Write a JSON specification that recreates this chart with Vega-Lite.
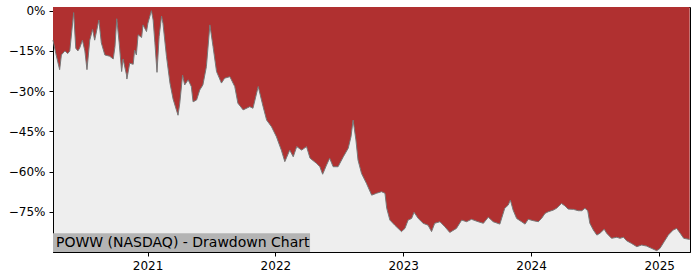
{
  "$schema": "https://vega.github.io/schema/vega-lite/v6.json",
  "width": 637,
  "height": 245,
  "autosize": {"type": "none"},
  "padding": {"left": 53, "top": 7, "right": 10, "bottom": 28},
  "config": {
    "font": "DejaVu Sans",
    "view": {"fill": "#eeeeee", "stroke": "black", "strokeWidth": 1},
    "axis": {"grid": false, "domainColor": "black", "tickColor": "black", "labelColor": "black", "labelFont": "DejaVu Sans", "labelFontSize": 12, "tickSize": 4, "title": null}
  },
  "datasets": {
    "dd": [
      {"date": "2020-04-06", "dd": -0.11},
      {"date": "2020-04-14", "dd": -0.16},
      {"date": "2020-04-25", "dd": -0.22},
      {"date": "2020-04-30", "dd": -0.165},
      {"date": "2020-05-10", "dd": -0.15},
      {"date": "2020-05-18", "dd": -0.16},
      {"date": "2020-05-24", "dd": -0.15},
      {"date": "2020-06-04", "dd": -0.007},
      {"date": "2020-06-10", "dd": -0.14},
      {"date": "2020-06-16", "dd": -0.15},
      {"date": "2020-06-21", "dd": -0.14},
      {"date": "2020-06-29", "dd": -0.11},
      {"date": "2020-07-06", "dd": -0.15},
      {"date": "2020-07-12", "dd": -0.22},
      {"date": "2020-07-20", "dd": -0.11},
      {"date": "2020-07-28", "dd": -0.07},
      {"date": "2020-08-03", "dd": -0.11},
      {"date": "2020-08-15", "dd": -0.035},
      {"date": "2020-08-22", "dd": -0.12},
      {"date": "2020-09-01", "dd": -0.165},
      {"date": "2020-09-15", "dd": -0.17},
      {"date": "2020-09-25", "dd": -0.18},
      {"date": "2020-09-30", "dd": -0.134},
      {"date": "2020-10-05", "dd": -0.03},
      {"date": "2020-10-12", "dd": -0.12},
      {"date": "2020-10-19", "dd": -0.227},
      {"date": "2020-10-23", "dd": -0.18},
      {"date": "2020-11-02", "dd": -0.24},
      {"date": "2020-11-03", "dd": -0.255},
      {"date": "2020-11-11", "dd": -0.196},
      {"date": "2020-11-21", "dd": -0.2},
      {"date": "2020-11-25", "dd": -0.147},
      {"date": "2020-11-30", "dd": -0.165},
      {"date": "2020-12-05", "dd": -0.09},
      {"date": "2020-12-15", "dd": -0.1},
      {"date": "2020-12-19", "dd": -0.053},
      {"date": "2020-12-29", "dd": -0.078},
      {"date": "2021-01-02", "dd": -0.047},
      {"date": "2021-01-12", "dd": 0.0},
      {"date": "2021-01-17", "dd": -0.035},
      {"date": "2021-01-22", "dd": -0.12},
      {"date": "2021-01-28", "dd": -0.23},
      {"date": "2021-02-03", "dd": -0.097},
      {"date": "2021-02-10", "dd": -0.02},
      {"date": "2021-02-14", "dd": -0.047},
      {"date": "2021-02-24", "dd": -0.17},
      {"date": "2021-03-06", "dd": -0.27},
      {"date": "2021-03-15", "dd": -0.33},
      {"date": "2021-03-29", "dd": -0.39},
      {"date": "2021-04-03", "dd": -0.345},
      {"date": "2021-04-11", "dd": -0.24},
      {"date": "2021-04-17", "dd": -0.277},
      {"date": "2021-04-27", "dd": -0.258},
      {"date": "2021-05-06", "dd": -0.283},
      {"date": "2021-05-11", "dd": -0.34},
      {"date": "2021-05-21", "dd": -0.333},
      {"date": "2021-05-30", "dd": -0.296},
      {"date": "2021-06-08", "dd": -0.277},
      {"date": "2021-06-18", "dd": -0.209},
      {"date": "2021-06-28", "dd": -0.053},
      {"date": "2021-07-07", "dd": -0.134},
      {"date": "2021-07-17", "dd": -0.227},
      {"date": "2021-07-31", "dd": -0.27},
      {"date": "2021-08-09", "dd": -0.252},
      {"date": "2021-08-24", "dd": -0.246},
      {"date": "2021-09-07", "dd": -0.283},
      {"date": "2021-09-16", "dd": -0.345},
      {"date": "2021-10-01", "dd": -0.37},
      {"date": "2021-10-20", "dd": -0.358},
      {"date": "2021-10-29", "dd": -0.364},
      {"date": "2021-11-13", "dd": -0.283},
      {"date": "2021-11-27", "dd": -0.358},
      {"date": "2021-12-07", "dd": -0.408},
      {"date": "2021-12-21", "dd": -0.433},
      {"date": "2022-01-04", "dd": -0.47},
      {"date": "2022-01-18", "dd": -0.52},
      {"date": "2022-01-28", "dd": -0.563},
      {"date": "2022-02-11", "dd": -0.52},
      {"date": "2022-02-21", "dd": -0.545},
      {"date": "2022-03-03", "dd": -0.507},
      {"date": "2022-03-17", "dd": -0.52},
      {"date": "2022-03-31", "dd": -0.507},
      {"date": "2022-04-10", "dd": -0.55},
      {"date": "2022-04-29", "dd": -0.57},
      {"date": "2022-05-08", "dd": -0.582},
      {"date": "2022-05-16", "dd": -0.61},
      {"date": "2022-05-27", "dd": -0.576},
      {"date": "2022-06-05", "dd": -0.55},
      {"date": "2022-06-15", "dd": -0.582},
      {"date": "2022-06-29", "dd": -0.582},
      {"date": "2022-07-14", "dd": -0.545},
      {"date": "2022-07-28", "dd": -0.513},
      {"date": "2022-08-05", "dd": -0.47},
      {"date": "2022-08-11", "dd": -0.408},
      {"date": "2022-08-19", "dd": -0.482},
      {"date": "2022-08-25", "dd": -0.557},
      {"date": "2022-09-04", "dd": -0.607},
      {"date": "2022-09-18", "dd": -0.644},
      {"date": "2022-10-03", "dd": -0.688},
      {"date": "2022-10-17", "dd": -0.681},
      {"date": "2022-10-31", "dd": -0.675},
      {"date": "2022-11-10", "dd": -0.681},
      {"date": "2022-11-15", "dd": -0.737},
      {"date": "2022-11-24", "dd": -0.781},
      {"date": "2022-12-08", "dd": -0.8},
      {"date": "2022-12-27", "dd": -0.824},
      {"date": "2023-01-06", "dd": -0.812},
      {"date": "2023-01-15", "dd": -0.781},
      {"date": "2023-01-25", "dd": -0.775},
      {"date": "2023-02-01", "dd": -0.752},
      {"date": "2023-02-13", "dd": -0.775},
      {"date": "2023-02-27", "dd": -0.793},
      {"date": "2023-03-13", "dd": -0.8},
      {"date": "2023-03-23", "dd": -0.824},
      {"date": "2023-04-01", "dd": -0.793},
      {"date": "2023-04-16", "dd": -0.787},
      {"date": "2023-04-30", "dd": -0.806},
      {"date": "2023-05-14", "dd": -0.827},
      {"date": "2023-06-02", "dd": -0.812},
      {"date": "2023-06-17", "dd": -0.781},
      {"date": "2023-07-01", "dd": -0.787},
      {"date": "2023-07-15", "dd": -0.778},
      {"date": "2023-08-03", "dd": -0.787},
      {"date": "2023-08-18", "dd": -0.793},
      {"date": "2023-09-01", "dd": -0.77},
      {"date": "2023-09-15", "dd": -0.787},
      {"date": "2023-10-04", "dd": -0.796},
      {"date": "2023-10-18", "dd": -0.737},
      {"date": "2023-10-28", "dd": -0.725},
      {"date": "2023-11-03", "dd": -0.706},
      {"date": "2023-11-11", "dd": -0.744},
      {"date": "2023-11-21", "dd": -0.775},
      {"date": "2023-12-05", "dd": -0.787},
      {"date": "2023-12-15", "dd": -0.796},
      {"date": "2023-12-24", "dd": -0.778},
      {"date": "2024-01-07", "dd": -0.783},
      {"date": "2024-01-22", "dd": -0.787},
      {"date": "2024-01-31", "dd": -0.775},
      {"date": "2024-02-10", "dd": -0.756},
      {"date": "2024-02-19", "dd": -0.75},
      {"date": "2024-03-04", "dd": -0.744},
      {"date": "2024-03-14", "dd": -0.737},
      {"date": "2024-03-28", "dd": -0.719},
      {"date": "2024-04-07", "dd": -0.728},
      {"date": "2024-04-16", "dd": -0.74},
      {"date": "2024-05-01", "dd": -0.741},
      {"date": "2024-05-15", "dd": -0.746},
      {"date": "2024-05-25", "dd": -0.746},
      {"date": "2024-06-03", "dd": -0.737},
      {"date": "2024-06-11", "dd": -0.746},
      {"date": "2024-06-17", "dd": -0.793},
      {"date": "2024-06-27", "dd": -0.818},
      {"date": "2024-07-07", "dd": -0.837},
      {"date": "2024-07-16", "dd": -0.83},
      {"date": "2024-07-28", "dd": -0.815},
      {"date": "2024-08-04", "dd": -0.83},
      {"date": "2024-08-18", "dd": -0.849},
      {"date": "2024-09-02", "dd": -0.845},
      {"date": "2024-09-11", "dd": -0.849},
      {"date": "2024-09-21", "dd": -0.845},
      {"date": "2024-09-30", "dd": -0.858},
      {"date": "2024-10-14", "dd": -0.868},
      {"date": "2024-10-29", "dd": -0.88},
      {"date": "2024-11-12", "dd": -0.874},
      {"date": "2024-11-26", "dd": -0.878},
      {"date": "2024-12-11", "dd": -0.887},
      {"date": "2024-12-25", "dd": -0.895},
      {"date": "2025-01-03", "dd": -0.887},
      {"date": "2025-01-15", "dd": -0.862},
      {"date": "2025-01-27", "dd": -0.837},
      {"date": "2025-02-10", "dd": -0.818},
      {"date": "2025-02-20", "dd": -0.812},
      {"date": "2025-03-02", "dd": -0.83},
      {"date": "2025-03-12", "dd": -0.849},
      {"date": "2025-03-29", "dd": -0.853}
    ],
    "label": [
      {"start": "2020-04-06", "end": "2022-04-10", "bottom": -0.9, "top": -0.83, "mid": -0.865, "text": "POWW (NASDAQ) - Drawdown Chart"}
    ]
  },
  "layer": [
    {
      "data": {"name": "dd"},
      "mark": {"type": "area", "color": "#b03030", "interpolate": "linear"},
      "encoding": {
        "x": {"field": "date", "type": "temporal", "scale": {"domain": ["2020-04-06", "2025-03-30"], "nice": false},
              "axis": {"format": "%Y", "tickCount": {"interval": "year", "step": 1}, "labelPadding": 4}},
        "y": {"field": "dd", "type": "quantitative", "scale": {"domain": [-0.9, 0.0137], "nice": false, "zero": false},
              "axis": {"format": ".0%", "values": [0, -0.15, -0.3, -0.45, -0.6, -0.75], "labelPadding": 4}},
        "y2": {"datum": 0.0137}
      }
    },
    {
      "data": {"name": "dd"},
      "mark": {"type": "line", "color": "#777777", "strokeWidth": 1},
      "encoding": {
        "x": {"field": "date", "type": "temporal"},
        "y": {"field": "dd", "type": "quantitative"}
      }
    },
    {
      "data": {"name": "label"},
      "mark": {"type": "rect", "color": "#b4b4b4"},
      "encoding": {
        "x": {"field": "start", "type": "temporal"},
        "x2": {"field": "end"},
        "y": {"field": "bottom", "type": "quantitative"},
        "y2": {"field": "top"}
      }
    },
    {
      "data": {"name": "label"},
      "mark": {"type": "text", "align": "left", "baseline": "middle", "dx": 3, "font": "DejaVu Sans", "fontSize": 14, "color": "black"},
      "encoding": {
        "x": {"field": "start", "type": "temporal"},
        "y": {"field": "mid", "type": "quantitative"},
        "text": {"field": "text"}
      }
    }
  ]
}
